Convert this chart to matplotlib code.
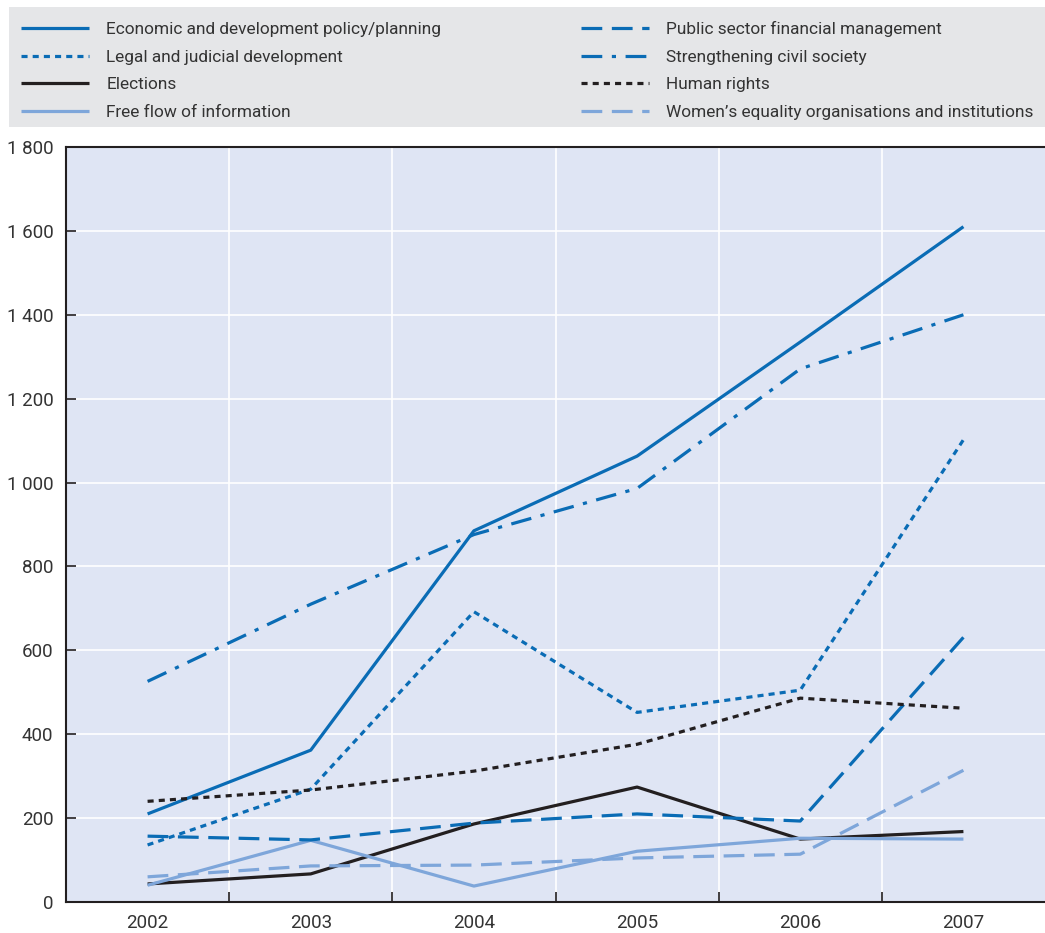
import matplotlib
matplotlib.use("Agg")
import matplotlib.pyplot as plt
from matplotlib.ticker import FixedLocator, FuncFormatter

years = ["2002", "2003", "2004", "2005", "2006", "2007"]
economic = [210, 362, 885, 1063, 1335, 1610]
legal = [136, 269, 692, 452, 505, 1102]
elections = [43, 67, 186, 274, 150, 168]
free_flow = [40, 147, 38, 121, 152, 150]
public_sector = [157, 148, 188, 210, 193, 631]
civil_society = [526, 710, 876, 986, 1271, 1400]
human_rights = [240, 267, 312, 376, 486, 462]
womens = [60, 86, 88, 105, 114, 314]
y_ticks = [0, 200, 400, 600, 800, 1000, 1200, 1400, 1600, 1800]

plt.rcParams['font.family'] = ['Roboto', 'DejaVu Sans']

BLUE = "#0a6cb5"
BLACK = "#231f20"
LIGHT = "#7ea6da"
BG = "#dfe5f4"
LEG = "#e5e6e8"
TXT = "#333333"

fig = plt.figure(figsize=(10.45, 9.33), dpi=100)
ax = fig.add_axes([66/1045, 1 - 902/933, 1 - 66/1045, (902 - 147)/933])
ax.set_facecolor(BG)

x = list(range(len(years)))
lw = 2.3
series = [
    ("Economic and development policy/planning", economic, BLUE, (0, ())),
    ("Legal and judicial development", legal, BLUE, (0, (1.9, 1.6))),
    ("Elections", elections, BLACK, (0, ())),
    ("Free flow of information", free_flow, LIGHT, (0, ())),
    ("Public sector financial management", public_sector, BLUE, (0, (6.5, 3.0))),
    ("Strengthening civil society", civil_society, BLUE, (0, (6.5, 3.0, 1.3, 3.0))),
    ("Human rights", human_rights, BLACK, (0, (1.9, 1.6))),
    ("Women\u2019s equality organisations and institutions", womens, LIGHT, (0, (6.5, 3.0))),
]
handles = {}
for name, vals, col, ls in series:
    ln, = ax.plot(x, vals, color=col, lw=lw, linestyle=ls, solid_joinstyle='miter', label=name)
    handles[name] = ln

ax.set_xlim(-0.5, 5.5)
ax.set_ylim(0, 1800)
ax.xaxis.set_major_locator(FixedLocator(x))
ax.set_xticklabels(years)
ax.xaxis.set_minor_locator(FixedLocator([i + 0.5 for i in range(5)]))
ax.yaxis.set_major_locator(FixedLocator(y_ticks))
ax.yaxis.set_major_formatter(FuncFormatter(lambda v, p: f"{int(v):,}".replace(",", " ")))

ax.tick_params(axis='x', which='major', length=0, pad=9, labelsize=13.5, labelcolor=TXT)
ax.tick_params(axis='x', which='minor', direction='in', length=7, width=1.2, color=BLACK)
ax.tick_params(axis='y', which='major', direction='in', length=7, width=1.2, color=BLACK,
               pad=9, labelsize=13.5, labelcolor=TXT)

ax.grid(False)
ax.xaxis.grid(True, which='minor', color='white', lw=1.2)
ax.yaxis.grid(True, which='major', color='white', lw=1.2)
ax.set_axisbelow(True)

for s in ['left', 'bottom', 'top']:
    ax.spines[s].set_color(BLACK)
    ax.spines[s].set_linewidth(1.5)
ax.spines['right'].set_visible(False)

# legend background
fig.patches.append(plt.Rectangle((9/1045, 1 - 127/933), 1 - 9/1045, 120/933,
                                 transform=fig.transFigure, facecolor=LEG, edgecolor='none', zorder=0))

order = [s[0] for s in series]
leg = fig.legend([handles[n] for n in order], order, ncol=2, loc='upper left',
                 bbox_to_anchor=(14/1045, 1 - 14/933), frameon=False,
                 fontsize=12.4, handlelength=3.95, handletextpad=1.0,
                 columnspacing=8.1, labelspacing=0.73, borderaxespad=0)
for t in leg.get_texts():
    t.set_color(TXT)

fig.savefig("out.png", dpi=100)
